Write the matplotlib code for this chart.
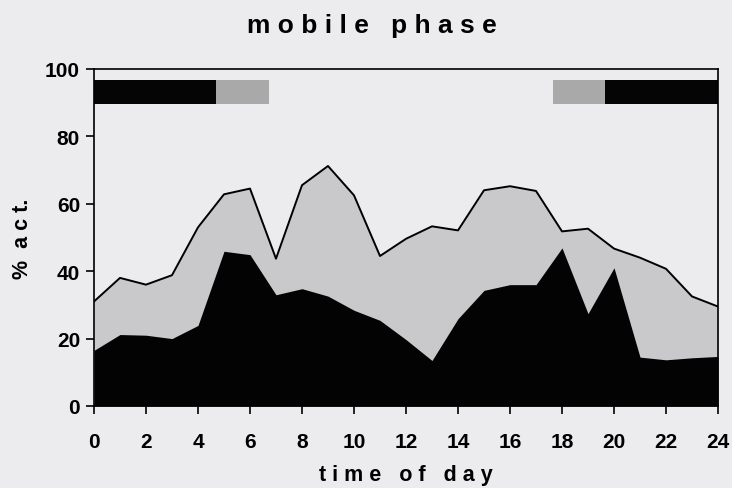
import numpy as np
import matplotlib
matplotlib.use('Agg')
import matplotlib.pyplot as plt

# hourly values
hours = list(range(0, 25))
total_act = [31, 38, 36, 38.8, 53, 62.8, 64.5, 43.7, 65.5, 71.2, 62.5, 44.5, 49.6,
             53.3, 52.1, 64, 65.2, 63.8, 51.8, 52.6, 46.7, 44, 40.7, 32.5, 29.5]
dark_act = [16.5, 21.2, 21, 20, 23.9, 45.9, 44.9, 33, 34.8, 32.6, 28.4, 25.4, 19.7,
            13.5, 25.9, 34.3, 36, 36, 46.9, 27.4, 41, 14.5, 13.7, 14.3, 14.7]

# light regime bars (start, end, colour)
light_start = [0, 4.7, 17.66, 19.67]
light_end = [4.7, 6.73, 19.67, 24]
light_col = ['#050505', '#a9a9a9', '#a9a9a9', '#050505']
xticks = list(range(0, 25, 2))
yticks = [0, 20, 40, 60, 80, 100]

bg = '#ecebee'
plt.rcParams['font.family'] = ['Liberation Sans', 'DejaVu Sans']
plt.rcParams['font.weight'] = 'bold'

fig = plt.figure(figsize=(7.32, 4.89), dpi=100, facecolor=bg)
ax = fig.add_axes([0.1284, 0.1677, 0.8525, 0.6893])
ax.set_facecolor(bg)

ax.fill_between(hours, 0, total_act, color='#c9c9cb', lw=0)
ax.plot(hours, total_act, color='black', lw=1.4)
ax.fill_between(hours, 0, dark_act, color='#030303', lw=0)

for s, e, c in zip(light_start, light_end, light_col):
    ax.fill_between([s, e], 89.7, 96.6, color=c, lw=0)

ax.set_xlim(0, 24)
ax.set_ylim(0, 100)
ax.set_xticks(xticks)
ax.set_yticks(yticks)
ax.tick_params(axis='both', direction='out', length=5.5, width=1.2,
               labelsize=15)
ax.tick_params(axis='x', pad=13.5)
ax.tick_params(axis='y', pad=4.5)
for sp in ax.spines.values():
    sp.set_linewidth(1.2)

ax.set_xlabel('t i m e   o f   d a y', fontsize=15.5, fontweight='bold')
ax.xaxis.set_label_coords(0.5, -0.172)
ax.set_ylabel('%  a c t.', fontsize=15.5, fontweight='bold')
ax.yaxis.set_label_coords(-0.098, 0.5)
fig.text(0.508, 0.946, 'm o b i l e   p h a s e', ha='center', va='center',
         fontsize=19, fontweight='bold')

fig.savefig('out.png', dpi=100, facecolor=bg)
